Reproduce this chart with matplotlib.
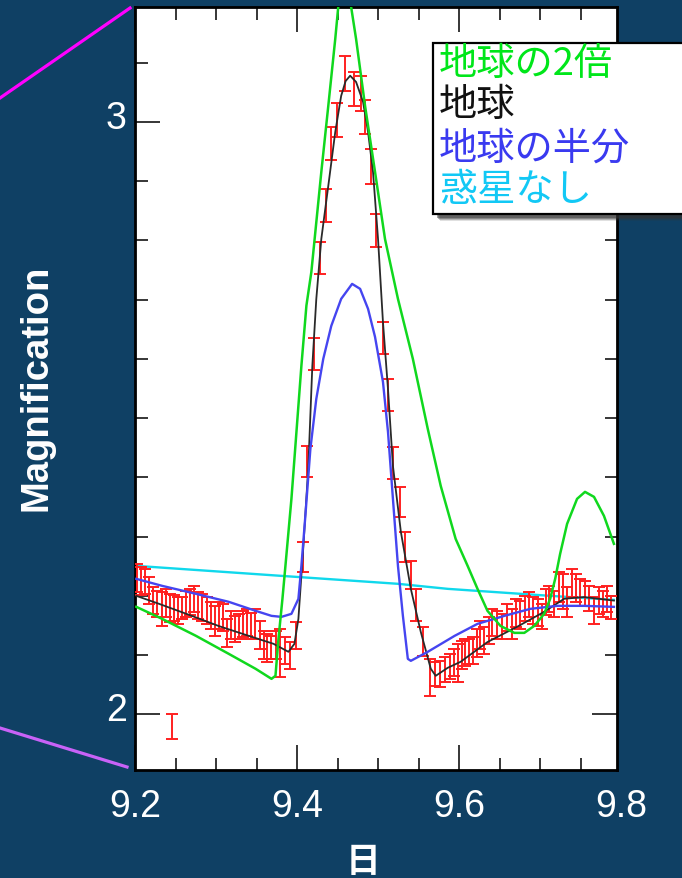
import matplotlib
matplotlib.use("Agg")
import matplotlib.pyplot as plt
import matplotlib.transforms as mtransforms
from matplotlib.patches import Rectangle
from matplotlib.lines import Line2D
from matplotlib.ticker import MultipleLocator, FixedLocator

# ---- data -------------------------------------------------------------
# observed magnification with error bars
obs_day = [
    9.2027, 9.2076, 9.2125, 9.2174, 9.2224, 9.2273, 9.2334, 9.2383, 9.2432, 9.2482,
    9.2531, 9.2580, 9.2629, 9.2678, 9.2727, 9.2776, 9.2826, 9.2887, 9.2936, 9.2985,
    9.3034, 9.3084, 9.3133, 9.3182, 9.3231, 9.3280, 9.3329, 9.3378, 9.3428, 9.3477,
    9.3538, 9.3587, 9.3624, 9.3673, 9.3735, 9.3796, 9.3857, 9.3919, 9.3993,
    9.4079, 9.4128, 9.4214, 9.4288, 9.4361, 9.4423, 9.4497, 9.4595, 9.4706, 9.4792,
    9.4841, 9.4915, 9.4976, 9.5062, 9.5123, 9.5184, 9.5270, 9.5332, 9.5406, 9.5467,
    9.5553,
    9.5639, 9.5700, 9.5762, 9.5823, 9.5884, 9.5933, 9.5983, 9.6032, 9.6069, 9.6118,
    9.6167, 9.6216, 9.6253, 9.6314, 9.6364, 9.6413, 9.6474, 9.6536, 9.6597, 9.6658,
    9.6708, 9.6757, 9.6818, 9.6867, 9.6916, 9.6978, 9.7027, 9.7076, 9.7113, 9.7175,
    9.7236, 9.7285, 9.7334, 9.7396, 9.7445, 9.7494, 9.7556, 9.7605, 9.7666, 9.7728,
    9.7777, 9.7826, 9.7875,
]
obs_mag = [
    2.2304, 2.2253, 2.2245, 2.2093, 2.1924, 2.1865, 2.1780, 2.1882, 2.1797, 2.1797,
    2.1755, 2.1797, 2.1865, 2.1899, 2.1949, 2.1839, 2.1806, 2.1755, 2.1671, 2.1578,
    2.1671, 2.1637, 2.1375, 2.1510, 2.1443, 2.1485, 2.1527, 2.1553, 2.1493, 2.1527,
    2.1342, 2.1173, 2.1122, 2.1131, 2.1173, 2.1038, 2.1080, 2.0996, 2.1333,
    2.2658, 2.4270, 2.6084, 2.7705, 2.8591, 2.9637, 3.0034, 3.0819, 3.0557, 3.0481,
    3.0084, 2.9249, 2.8169, 2.6354, 2.5392, 2.4245, 2.3586, 2.2827, 2.2354, 2.1848,
    2.1232,
    2.0624, 2.0683, 2.0683, 2.0759, 2.0810, 2.0877, 2.0869, 2.1004, 2.1046, 2.1063,
    2.1080, 2.1207, 2.1342, 2.1249, 2.1418, 2.1553, 2.1510, 2.1485, 2.1637, 2.1527,
    2.1713, 2.1679, 2.1789, 2.1856, 2.1755, 2.1721, 2.1654, 2.1899, 2.1949, 2.1865,
    2.2152, 2.2076, 2.1899, 2.2219, 2.2135, 2.2059, 2.2042, 2.1958, 2.1755, 2.1924,
    2.1865, 2.1949, 2.1806,
]
obs_err = [
    0.0236, 0.0236, 0.0211, 0.0228, 0.0228, 0.0219, 0.0287, 0.0236, 0.0236, 0.0219,
    0.0228, 0.0186, 0.0219, 0.0219, 0.0219, 0.0228, 0.0228, 0.0228, 0.0228, 0.0253,
    0.0228, 0.0228, 0.0236, 0.0236, 0.0219, 0.0211, 0.0219, 0.0228, 0.0219, 0.0253,
    0.0236, 0.0236, 0.0236, 0.0194, 0.0236, 0.0405, 0.0228, 0.0228, 0.0228,
    0.0253, 0.0262, 0.0270, 0.0270, 0.0278, 0.0278, 0.0287, 0.0295, 0.0287, 0.0295,
    0.0287, 0.0295, 0.0278, 0.0270, 0.0270, 0.0270, 0.0253, 0.0253, 0.0236, 0.0270,
    0.0245,
    0.0312, 0.0203, 0.0219, 0.0211, 0.0211, 0.0228, 0.0321, 0.0236, 0.0228, 0.0211,
    0.0228, 0.0236, 0.0236, 0.0228, 0.0228, 0.0228, 0.0236, 0.0211, 0.0228, 0.0253,
    0.0236, 0.0236, 0.0211, 0.0211, 0.0228, 0.0228, 0.0211, 0.0219, 0.0219, 0.0219,
    0.0253, 0.0295, 0.0253, 0.0236, 0.0236, 0.0228, 0.0211, 0.0211, 0.0228, 0.0228,
    0.0219, 0.0219, 0.0194,
]

# typical error scale marker
scale_day = [9.2457]
scale_mag = [1.9797]
scale_err = [0.0211]

# model light curves
twice_day = [9.2016, 9.2334, 9.2752, 9.3157, 9.3489, 9.3685, 9.3734, 9.3771, 9.3820,
             9.3857, 9.3931, 9.3993, 9.4054, 9.4116, 9.4177, 9.4300, 9.4386, 9.4472,
             9.4509, 9.4582, 9.4668, 9.4729, 9.4840, 9.4963, 9.5086, 9.5246, 9.5430,
             9.5614, 9.5774, 9.5958, 9.6106, 9.6228, 9.6351, 9.6511, 9.6683, 9.6806,
             9.6929, 9.7051, 9.7125, 9.7187, 9.7248, 9.7334, 9.7457, 9.7555, 9.7666,
             9.7789, 9.7912]
twice_mag = [2.1814, 2.1612, 2.1325, 2.1021, 2.0768, 2.0599, 2.0650, 2.1274, 2.1949,
             2.2506, 2.3637, 2.4768, 2.5882, 2.6900, 2.7468, 2.9156, 3.0270, 3.1401,
             3.1941, 3.2667, 3.1941, 3.1401, 3.0270, 2.9156, 2.8025, 2.7013, 2.6000,
             2.4819, 2.3856, 2.2962, 2.2506, 2.2118, 2.1747, 2.1493, 2.1375, 2.1375,
             2.1493, 2.1696, 2.1949, 2.2287, 2.2709, 2.3215, 2.3637, 2.3755, 2.3671,
             2.3350, 2.2878]

earth_day = [9.2016, 9.2297, 9.2666, 9.3034, 9.3403, 9.3710, 9.3894, 9.3968, 9.4017,
             9.4079, 9.4140, 9.4189, 9.4238, 9.4300, 9.4386, 9.4472, 9.4545, 9.4600,
             9.4656, 9.4729, 9.4815, 9.4877, 9.4938, 9.5000, 9.5061, 9.5123, 9.5184,
             9.5282, 9.5405, 9.5528, 9.5651, 9.5712, 9.5860, 9.6019, 9.6351, 9.6720,
             9.7051, 9.7297, 9.7543, 9.7912]
earth_mag = [2.2000, 2.1865, 2.1680, 2.1490, 2.1325, 2.1190, 2.1055, 2.1190, 2.1610,
             2.2845, 2.4194, 2.5880, 2.7010, 2.8025, 2.8920, 2.9830, 3.0440, 3.0690,
             3.0780, 3.0675, 3.0340, 2.9830, 2.9156, 2.8025, 2.6620, 2.5490, 2.4194,
             2.3080, 2.2118, 2.1390, 2.0770, 2.0650, 2.0785, 2.0886, 2.1220, 2.1480,
             2.1730, 2.1950, 2.1980, 2.1920]

half_day = [9.2016, 9.2334, 9.2752, 9.3157, 9.3489, 9.3685, 9.3808, 9.3931, 9.4017,
            9.4054, 9.4103, 9.4165, 9.4238, 9.4324, 9.4423, 9.4545, 9.4680, 9.4779,
            9.4877, 9.4963, 9.5061, 9.5123, 9.5184, 9.5246, 9.5307, 9.5368, 9.5405,
            9.5614, 9.5946, 9.6228, 9.6560, 9.6879, 9.7211, 9.7543, 9.7912]
half_mag = [2.2287, 2.2169, 2.2034, 2.1899, 2.1747, 2.1662, 2.1645, 2.1696, 2.1949,
            2.2506, 2.3350, 2.4481, 2.5325, 2.6000, 2.6557, 2.7013, 2.7266, 2.7182,
            2.6844, 2.6371, 2.5612, 2.4768, 2.3637, 2.2506, 2.1662, 2.0936, 2.0903,
            2.1055, 2.1325, 2.1527, 2.1662, 2.1780, 2.1831, 2.1831, 2.1814]

none_day = [9.2016, 9.3808, 9.5246, 9.5860, 9.7125, 9.7912]
none_mag = [2.2506, 2.2337, 2.2203, 2.2118, 2.2000, 2.1932]

legend_labels = ["地球の2倍", "地球", "地球の半分", "惑星なし"]
legend_colors = ["#00e61a", "#111111", "#3a3af0", "#12c8f5"]

x_ticks = [9.2, 9.4, 9.6, 9.8]
x_tick_labels = ["9.2", "9.4", "9.6", "9.8"]
y_ticks = [2, 3]
y_tick_labels = ["2", "3"]

# ---- figure -----------------------------------------------------------
BG = "#0f4064"
W, H = 682, 879
fig = plt.figure(figsize=(W / 100, H / 100), dpi=100, facecolor=BG)

def fx(px):
    return px / W

def fy(py):
    return 1 - py / H

ax = fig.add_axes([fx(135), fy(771), fx(617) - fx(135), fy(8) - fy(771)])
ax.set_facecolor("white")

ax.plot(none_day, none_mag, color="#10d8ec", lw=1.7, zorder=2)
ax.errorbar(obs_day, obs_mag, yerr=obs_err, fmt="none", ecolor="#ff2020",
            elinewidth=1.4, capsize=4.3, capthick=1.4, zorder=3)
ax.errorbar(scale_day, scale_mag, yerr=scale_err, fmt="none", ecolor="#ff2020",
            elinewidth=1.4, capsize=4.3, capthick=1.4, zorder=3)
ax.plot(earth_day, earth_mag, color="#2a2a2a", lw=1.3, zorder=4)
ax.plot(half_day, half_mag, color="#4545f0", lw=1.7, zorder=4)
ax.plot(twice_day, twice_mag, color="#10d81e", lw=1.8, zorder=4)

ax.set_xlim(9.2, 9.795)
ax.set_ylim(1.906, 3.194)

# 9.8 lies just past the right edge, so its label is placed by hand
ax.xaxis.set_major_locator(FixedLocator(x_ticks[:-1]))
ax.set_xticklabels(x_tick_labels[:-1])
ax.xaxis.set_minor_locator(MultipleLocator(0.05))
ax.yaxis.set_major_locator(FixedLocator(y_ticks))
ax.set_yticklabels(y_tick_labels)
ax.yaxis.set_minor_locator(MultipleLocator(0.1))

ax.tick_params(which="both", direction="in", top=True, right=True,
               color="black", width=1.1)
ax.tick_params(which="major", length=18)
ax.tick_params(which="minor", length=9)
ax.tick_params(axis="x", which="major", pad=13, labelsize=27, labelcolor="white")
ax.tick_params(axis="y", which="major", pad=6, labelsize=27, labelcolor="white")
for lab in ax.get_xticklabels() + ax.get_yticklabels():
    lab.set_fontfamily("Liberation Sans")
ax.annotate(x_tick_labels[-1], xy=(x_ticks[-1], 0), xycoords=("data", "axes fraction"),
            xytext=(0, -13), textcoords="offset points", ha="center", va="top",
            fontsize=27, color="white", family="Liberation Sans", annotation_clip=False)
shift_up = mtransforms.ScaledTranslation(0, 6 / 72, fig.dpi_scale_trans)
for lab in ax.get_yticklabels():
    lab.set_transform(lab.get_transform() + shift_up)

for sp in ax.spines.values():
    sp.set_linewidth(2.0)
    sp.set_color("black")

# axis titles
fig.text(fx(37), fy(388), "Magnification", rotation=90, color="white",
         fontsize=27.5, fontweight="bold", family="Liberation Sans",
         ha="center", va="center")
fig.text(fx(363), fy(862), "日", color="white", fontsize=25, fontweight="bold",
         family=["Noto Sans CJK JP", "DejaVu Sans"], ha="center", va="center")

# connector lines from the overview panel
fig.add_artist(Line2D([fx(0), fx(130)], [fy(99), fy(9)], color="#ff00ff", lw=2.3))
fig.add_artist(Line2D([fx(0), fx(127)], [fy(729), fy(768)], color="#c862f7", lw=2.3))

# legend box with shadow
box_l, box_t, box_b, box_r = 433, 44, 215, 700
for k, a in [(7, 0.15), (6, 0.25), (5, 0.35), (4, 0.45)]:
    fig.add_artist(Rectangle((fx(box_l + k), fy(box_b + k)), fx(box_r) - fx(box_l),
                             fy(box_t) - fy(box_b), transform=fig.transFigure,
                             facecolor="#333333", edgecolor="none", alpha=a, zorder=5))
fig.add_artist(Rectangle((fx(box_l), fy(box_b)), fx(box_r) - fx(box_l),
                         fy(box_t) - fy(box_b), transform=fig.transFigure,
                         facecolor="white", edgecolor="black", lw=1.6, zorder=6))
for label, color, py in zip(legend_labels, legend_colors, [64, 105, 149, 190]):
    fig.text(fx(439), fy(py), label, color=color, fontsize=27.5,
             family=["Noto Sans CJK JP", "DejaVu Sans"], ha="left", va="center",
             zorder=7)

fig.savefig("out.png", dpi=100, facecolor=BG)
